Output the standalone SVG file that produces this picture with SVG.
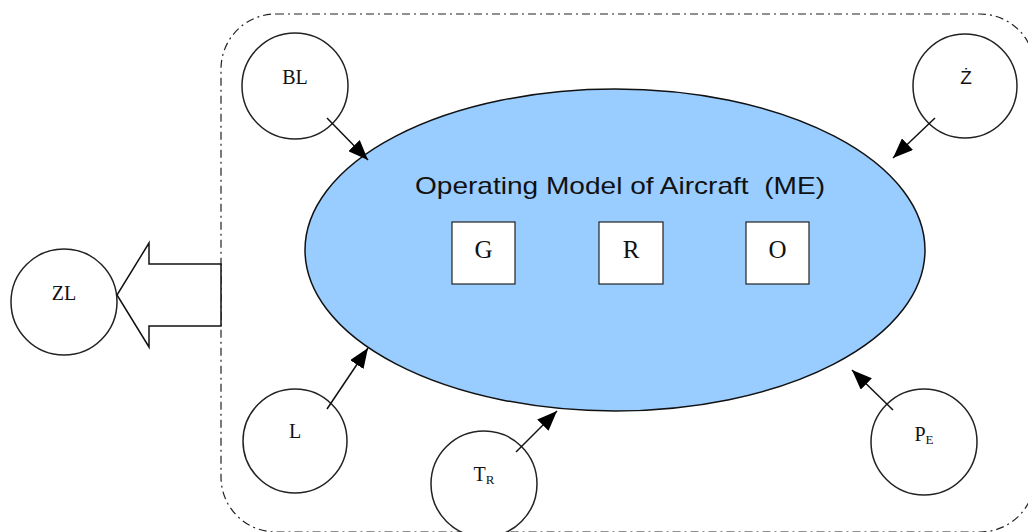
<svg xmlns="http://www.w3.org/2000/svg" width="1028" height="532" viewBox="0 0 1028 532">
<style>
.c{fill:#fff;stroke:#222;stroke-width:1.5}
.t{font-family:"Liberation Serif","Times New Roman",serif;font-size:20px;fill:#111;text-anchor:middle}
.sub{font-size:13px}
.box{fill:#fff;stroke:#222;stroke-width:1.2}
.bt{font-family:"Liberation Serif","Times New Roman",serif;font-size:25px;fill:#111;text-anchor:middle}
.ln{stroke:#111;stroke-width:1.5;fill:none}
</style>
<defs>
<marker id="ah" viewBox="0 0 20 16" refX="20" refY="8" markerWidth="20" markerHeight="16" markerUnits="userSpaceOnUse" orient="auto">
<path d="M0,0 L20,8 L0,16 z" fill="#000"/>
</marker>
</defs>
<rect width="1028" height="532" fill="#fff"/>
<g id="boundary">
<rect x="221" y="14" width="814" height="518" rx="55" ry="55" fill="none" stroke="#222" stroke-width="1.2" stroke-dasharray="8 4 2 4"/>
</g>
<g id="ME">
<ellipse cx="615" cy="250" rx="310" ry="161" fill="#99CCFF" stroke="#111" stroke-width="1.5"/>
<text x="620" y="194" font-family="Liberation Sans, Arial, sans-serif" font-size="24" fill="#111" text-anchor="middle" textLength="410" lengthAdjust="spacingAndGlyphs" xml:space="preserve">Operating Model of Aircraft  (ME)</text>
</g>
<g id="G"><rect class="box" x="452" y="222" width="63" height="62"/><text class="bt" x="483.5" y="258">G</text></g>
<g id="R"><rect class="box" x="599" y="222" width="64" height="62"/><text class="bt" x="631" y="258">R</text></g>
<g id="O"><rect class="box" x="746" y="222" width="63" height="62"/><text class="bt" x="777.5" y="258">O</text></g>
<g id="BL"><circle class="c" cx="295" cy="86" r="53"/><text class="t" x="295" y="84">BL</text></g>
<g id="Zdot"><circle class="c" cx="965" cy="86" r="52"/><text x="966" y="84" font-family="Liberation Sans, Arial, sans-serif" font-size="19" fill="#111" text-anchor="middle">Ż</text></g>
<g id="ZL"><circle class="c" cx="64" cy="302" r="53"/><text class="t" x="64" y="300">ZL</text></g>
<g id="L"><circle class="c" cx="295" cy="441" r="52"/><text class="t" x="295" y="438">L</text></g>
<g id="TR"><circle class="c" cx="484" cy="484" r="53"/><text class="t" x="484" y="481">T<tspan class="sub" dy="3">R</tspan></text></g>
<g id="PE"><circle class="c" cx="924" cy="442" r="53"/><text class="t" x="924" y="441">P<tspan class="sub" dy="3">E</tspan></text></g>
<g id="connectors">
<path class="ln" d="M327,118 L368,160" marker-end="url(#ah)"/>
<path class="ln" d="M935,118 L893,158" marker-end="url(#ah)"/>
<path class="ln" d="M327,409 L368,348" marker-end="url(#ah)"/>
<path class="ln" d="M516,452 L557,411" marker-end="url(#ah)"/>
<path class="ln" d="M893,410 L852,370" marker-end="url(#ah)"/>
<polygon points="221,264 149,264 149,243 117,295 149,347 149,326 221,326" fill="#fff" stroke="#111" stroke-width="1.5"/>
</g>
</svg>
